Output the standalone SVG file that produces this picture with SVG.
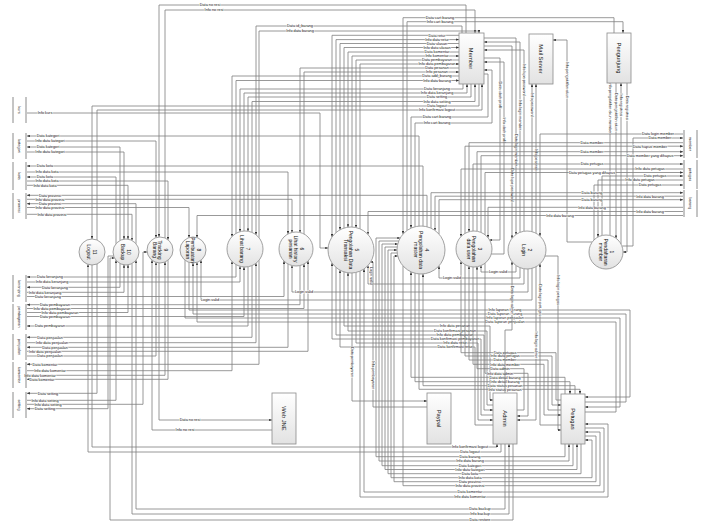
<svg xmlns="http://www.w3.org/2000/svg" width="701" height="524" viewBox="0 0 701 524">
<defs>
<marker id="a" viewBox="0 0 6 6" refX="6" refY="3" markerWidth="3.6" markerHeight="3.6" orient="auto"><path d="M0,0.5L6,3L0,5.5z" fill="#333"/></marker>
<linearGradient id="g" x1="0" y1="0" x2="0" y2="1"><stop offset="0" stop-color="#ffffff"/><stop offset="1" stop-color="#e2e2e2"/></linearGradient>
</defs>
<style>
.c{fill:none;stroke:#7f7f7f;stroke-width:0.8;marker-end:url(#a)}
.l{font-family:"Liberation Sans",Arial,sans-serif;font-size:3.8px;fill:#111;text-anchor:middle;paint-order:stroke;stroke:#fff;stroke-width:1.1px;stroke-linejoin:round}
.n{font-family:"Liberation Sans",Arial,sans-serif;font-size:5px;fill:#111;text-anchor:middle}
.e{font-family:"Liberation Sans",Arial,sans-serif;font-size:5.8px;fill:#111;text-anchor:middle}
.s{font-family:"Liberation Sans",Arial,sans-serif;font-size:3.8px;fill:#111;text-anchor:middle}
.p{fill:url(#g);stroke:#8a8a8a;stroke-width:0.8}
.b{stroke:#8a8a8a;stroke-width:1;fill:none}
</style>
<rect width="701" height="524" fill="#fff"/>

<g id="connectors">
<path class="c" d="M466,33V5H159V237"/><text class="l" x="210" y="6.35">Data no resi</text>
<path class="c" d="M165,238V10H475V33"/><text class="l" x="214" y="11.35">Info no resi</text>
<path class="c" d="M159,263V420H272"/><text class="l" x="190" y="421.35">Data no resi</text>
<path class="c" d="M272,430H152V260.2"/><text class="l" x="185" y="431.35">Info no resi</text>
<path class="c" d="M462,33V26H256V234.8"/><text class="l" x="300" y="27.35">Data id_barang</text>
<path class="c" d="M259,237.7V31H479V33"/><text class="l" x="300" y="32.35">Info data barang</text>
<path class="c" d="M614,33V17.7H403V234"/><text class="l" x="440" y="19.05">Data cart barang</text>
<path class="c" d="M407,230.5V21.7H623V33"/><text class="l" x="440" y="23.05">Info cart barang</text>

<path class="c" d="M459,35.3H332V237"/><text class="l" x="437" y="36.65">Data retur</text>
<path class="c" d="M336,232.6V39.6H459"/><text class="l" x="437" y="40.95">Info data retur</text>
<path class="c" d="M459,43.5H340V229.8"/><text class="l" x="437" y="44.85">Data ulasan</text>
<path class="c" d="M344,228.1V47.5H459"/><text class="l" x="437" y="48.85">Info data ulasan</text>
<path class="c" d="M459,52H348V227.2"/><text class="l" x="437" y="53.35">Data komentar</text>
<path class="c" d="M352,227V56H459"/><text class="l" x="437" y="57.35">Info komentar</text>
<path class="c" d="M459,60H356V227.6"/><text class="l" x="437" y="61.35">Data pembayaran</text>
<path class="c" d="M360,228.8V64H459"/><text class="l" x="437" y="65.35">Info data pembayaran</text>
<path class="c" d="M459,68H300V232.5"/><text class="l" x="437" y="69.35">Data pesanan</text>
<path class="c" d="M304,234V72H459"/><text class="l" x="437" y="73.35">Info pesanan</text>
<path class="c" d="M459,76H232V236.6"/><text class="l" x="437" y="77.35">Data add_barang</text>
<path class="c" d="M236,233.4V80.5H459"/><text class="l" x="437" y="81.85">Info data barang</text>
<path class="c" d="M463,84V89H240V231.7"/><text class="l" x="437" y="90.35">Data keranjang</text>
<path class="c" d="M244,231V93H467V84"/><text class="l" x="437" y="94.35">Info data keranjang</text>
<path class="c" d="M471,84V97H248V231.3"/><text class="l" x="437" y="98.35">Data setting</text>
<path class="c" d="M252,232.4V101.5H475V84"/><text class="l" x="437" y="102.85">Info data setting</text>
<path class="c" d="M479,84V106H92V239"/><text class="l" x="437" y="107.35">Data logout</text>
<path class="c" d="M97,240V110H482V84"/><text class="l" x="437" y="111.35">Info konfirmasi logout</text>
<path class="c" d="M484,74H488V117H411V228"/><text class="l" x="437" y="118.35">Data cart barang</text>
<path class="c" d="M415,226.8V123H492V70H484"/><text class="l" x="437" y="124.35">Info cart barang</text>

<path class="c" d="M484,38H516V234.5"/><text class="l" transform="rotate(90 516 150)" x="516" y="151.3">Data login member</text>
<path class="c" d="M520,232.3V42H484"/><text class="l" transform="rotate(90 520 115)" x="520" y="116.3">Info login member</text>
<path class="c" d="M484,46H512V238.3"/><text class="l" transform="rotate(90 512 185)" x="512" y="186.3">Data lupa password</text>
<path class="c" d="M524,231.2V50H484"/><text class="l" transform="rotate(90 524 80)" x="524" y="81.3">Info lupa password</text>
<path class="c" d="M484,58H500V240H489.6"/><text class="l" transform="rotate(90 500 95)" x="500" y="96.3">Data ubah profil</text>
<path class="c" d="M491.3,254H504V62H484"/><text class="l" transform="rotate(90 504 130)" x="504" y="131.3">Info ubah profil</text>

<path class="c" d="M532,231.7V84"/><text class="l" transform="rotate(90 532 105)" x="532" y="106.3">Info password</text>
<path class="c" d="M536,233.3V84"/><text class="l" transform="rotate(90 536 160)" x="536" y="161.3">Info pesanan</text>
<path class="c" d="M592.3,242H567V40H553"/><text class="l" transform="rotate(90 567 80)" x="567" y="81.3">Info pengaktifan akun</text>
<path class="c" d="M610,235.5V83"/><text class="l" transform="rotate(90 610 108)" x="610" y="109.3">Info pengaktifan akun member</text>
<path class="c" d="M616,83V238.3"/><text class="l" transform="rotate(90 616 112)" x="616" y="113.3">Data pengaktifan akun</text>
<path class="c" d="M621,244V83"/><text class="l" transform="rotate(90 621 105)" x="621" y="106.3">Info registrasi</text>
<path class="c" d="M627,83V252H623"/><text class="l" transform="rotate(90 627 108)" x="627" y="109.3">Data registrasi</text>

<path class="c" d="M683,134H540V236.1"/><text class="l" x="658" y="135.35">Data login member</text>
<path class="c" d="M622.2,246H633V138H683"/><text class="l" x="660" y="139.35">Data member</text>
<path class="c" d="M683,142.7H469V231.7"/><text class="l" x="592" y="144.05">Data member</text>
<path class="c" d="M465,233.4V146.2H683"/><text class="l" x="650" y="147.55">Data hapus member</text>
<path class="c" d="M477,231.3V151.7H683"/><text class="l" x="592" y="153.05">Data member</text>
<path class="c" d="M481,232.4V155.7H683"/><text class="l" x="650" y="157.05">Data member yang dihapus</text>
<path class="c" d="M473,231V164H683"/><text class="l" x="592" y="165.35">Data petugas</text>
<path class="c" d="M683,169H461V236.6"/><text class="l" x="650" y="170.35">Info data petugas</text>
<path class="c" d="M485,234.8V172.5H683"/><text class="l" x="592" y="173.85">Data petugas yang dihapus</text>
<path class="c" d="M602,235.5V176H683"/><text class="l" x="655" y="177.35">Data petugas</text>
<path class="c" d="M683,180H598V237"/><text class="l" x="640" y="181.35">Info data petugas</text>
<path class="c" d="M594,240V185H683"/><text class="l" x="650" y="186.35">Data petugas</text>
<path class="c" d="M431,228V192.7H683"/><text class="l" x="592" y="194.05">Data barang</text>
<path class="c" d="M683,196.2H435V230.5"/><text class="l" x="650" y="197.55">Info data barang</text>
<path class="c" d="M439,234V199.7H683"/><text class="l" x="592" y="201.05">Data barang</text>
<path class="c" d="M683,207.3H488V237.7"/><text class="l" x="592" y="208.65">Info data barang</text>
<path class="c" d="M683,211.5H368V234.5"/><text class="l" x="650" y="212.85">Info data barang</text>
<path class="c" d="M683,215.5H197V237.6"/><text class="l" x="560" y="216.85">Info data barang</text>

<path class="c" d="M27,113H320V248H328.1"/><text class="l" x="45" y="114.35">Info kurs</text>
<path class="c" d="M419,226V136H27"/><text class="l" x="48" y="137.35">Data kategori</text>
<path class="c" d="M27,141H156V237.6"/><text class="l" x="50" y="142.35">Info data kategori</text>
<path class="c" d="M120,240.5V147H27"/><text class="l" x="48" y="148.35">Data kategori</text>
<path class="c" d="M27,152H124V239.2"/><text class="l" x="50" y="153.35">Info data kategori</text>
<path class="c" d="M423,226V166H27"/><text class="l" x="45" y="167.35">Data kota</text>
<path class="c" d="M27,172H288V234"/><text class="l" x="47" y="173.35">Info data kota</text>
<path class="c" d="M116,243.7V177H27"/><text class="l" x="45" y="178.35">Data kota</text>
<path class="c" d="M27,181H168V239.8"/><text class="l" x="47" y="182.35">Info data kota</text>
<path class="c" d="M27,185.3H128V239.2"/><text class="l" x="45" y="186.65">Info data kota</text>
<path class="c" d="M427,226.8V195.3H27"/><text class="l" x="50" y="196.65">Data provinsi</text>
<path class="c" d="M27,199.3H292V232.5"/><text class="l" x="50" y="200.65">Info data provinsi</text>
<path class="c" d="M136,243.7V203.7H27"/><text class="l" x="50" y="205.05">Data provinsi</text>
<path class="c" d="M27,207.5H189V237.6"/><text class="l" x="50" y="208.85">Info data provinsi</text>
<path class="c" d="M27,214.3H132V240.5"/><text class="l" x="52" y="215.65">Info data provinsi</text>

<path class="c" d="M236,264.6V277H27"/><text class="l" x="50" y="278.35">Data keranjang</text>
<path class="c" d="M27,282H240V266.3"/><text class="l" x="52" y="283.35">Info data keranjang</text>
<path class="c" d="M120,263.5V287.3H27"/><text class="l" x="55" y="288.65">Data keranjang</text>
<path class="c" d="M27,292.3H124V264.8"/><text class="l" x="45" y="293.65">Info data keranjang</text>
<path class="c" d="M27,296.5H284V261"/><text class="l" x="48" y="297.85">Data keranjang</text>
<path class="c" d="M300,265.5V304.7H27"/><text class="l" x="55" y="306.05">Data pembayaran</text>
<path class="c" d="M27,308.5H304V264"/><text class="l" x="52" y="309.85">Info data pembayaran</text>
<path class="c" d="M27,312.5H128V264.8"/><text class="l" x="60" y="313.85">Info data pembayaran</text>
<path class="c" d="M27,316.5H244V267"/><text class="l" x="55" y="317.85">Data pembayaran</text>
<path class="c" d="M248,266.7V326H27"/><text class="l" x="50" y="327.35">Data pembayaran</text>
<path class="c" d="M252,265.6V337.3H27"/><text class="l" x="50" y="338.65">Data penjualan</text>
<path class="c" d="M27,342.7H256V263.2"/><text class="l" x="52" y="344.05">Info data penjualan</text>
<path class="c" d="M288,264V347.3H27"/><text class="l" x="55" y="348.65">Data penjualan</text>
<path class="c" d="M27,351.3H308V261"/><text class="l" x="45" y="352.65">Info data penjualan</text>
<path class="c" d="M27,356H156V262.4"/><text class="l" x="50" y="357.35">Data penjualan</text>
<path class="c" d="M259,260.3V364.3H27"/><text class="l" x="45" y="365.65">Data komentar</text>
<path class="c" d="M27,370.7H232V261.4"/><text class="l" x="50" y="372.05">Info data komentar</text>
<path class="c" d="M27,375.3H165V262"/><text class="l" x="40" y="376.65">Info data komentar</text>
<path class="c" d="M168,260.2V379.3H27"/><text class="l" x="42" y="380.65">Data komentar</text>
<path class="c" d="M97,264V393.3H27"/><text class="l" x="48" y="394.65">Data setting</text>
<path class="c" d="M27,400.3H116V260.3"/><text class="l" x="45" y="401.65">Info data setting</text>
<path class="c" d="M27,404.3H143V252H147.2"/><text class="l" x="48" y="405.65">Info data setting</text>
<path class="c" d="M113.6,256H108V408.7H27"/><text class="l" x="45" y="410.05">Data setting</text>

<path class="c" d="M92,265V447H497V444"/><text class="l" x="470" y="448.35">Info konfirmasi logout</text>
<path class="c" d="M501,444V452H88V264.4"/><text class="l" x="470" y="453.35">Data logout</text>
<path class="c" d="M505,444V509H136V260.3"/><text class="l" x="480" y="510.35">Data backup</text>
<path class="c" d="M132,263.5V514H509V444"/><text class="l" x="480" y="515.35">Info backup</text>
<path class="c" d="M513,444V520H110V258H114.5"/><text class="l" x="480" y="521.35">Data restore</text>
<path class="c" d="M565,444V456.7H376V238H400.2"/><text class="l" x="470" y="458.05">Data barang</text>
<path class="c" d="M398.8,241H379V461H569V444"/><text class="l" x="470" y="462.35">Info data barang</text>
<path class="c" d="M573,444V465.7H382V244H397.8"/><text class="l" x="470" y="467.05">Data kategori</text>
<path class="c" d="M397.2,247H385V469.5H577V444"/><text class="l" x="470" y="470.85">Info data kategori</text>
<path class="c" d="M581,444V473.7H388V250H397"/><text class="l" x="470" y="475.05">Data kota</text>
<path class="c" d="M397.2,253H391V477.7H592V440H585"/><text class="l" x="470" y="479.05">Info data kota</text>
<path class="c" d="M585,436H596V481.7H394V256H397.8"/><text class="l" x="470" y="483.05">Data provinsi</text>
<path class="c" d="M403,266V485.7H600V432H585"/><text class="l" x="470" y="487.05">Info data provinsi</text>
<path class="c" d="M585,428H604V492H364V269"/><text class="l" x="470" y="493.35">Data komentar</text>
<path class="c" d="M360,271.2V497H608V424H585"/><text class="l" x="470" y="498.35">Info data komentar</text>

<path class="c" d="M189,262.4V310H630V397H585"/><text class="l" x="505" y="311.35">Info laporan barang</text>
<path class="c" d="M585,402H626V314H193V263"/><text class="l" x="505" y="315.35">Data laporan barang</text>
<path class="c" d="M185,260.2V318H620V407H585"/><text class="l" x="505" y="319.35">Info laporan penjualan</text>
<path class="c" d="M585,412H616V322H197V262.4"/><text class="l" x="505" y="323.35">Data laporan penjualan</text>
<path class="c" d="M344,271.9V326H490V400H493"/><text class="l" x="455" y="327.35">Info data pesanan</text>
<path class="c" d="M493,405H487V331H348V272.8"/><text class="l" x="455" y="332.35">Data konfirmasi pesanan</text>
<path class="c" d="M336,267.4V335H484V410H493"/><text class="l" x="455" y="336.35">Info data pembayaran</text>
<path class="c" d="M493,415H481V339H332V263"/><text class="l" x="455" y="340.35">Data konfirmasi pembayaran</text>
<path class="c" d="M356,272.4V343H478V420H493"/><text class="l" x="455" y="344.35">Info data retur</text>
<path class="c" d="M493,425H475V347H340V270.2"/><text class="l" x="455" y="348.35">Data konfirmasi retur</text>
<path class="c" d="M561,400H556V352.7H461V261.4"/><text class="l" x="505" y="354.05">Data petugas</text>
<path class="c" d="M465,264.6V356H552V405H561"/><text class="l" x="505" y="357.35">Info data petugas</text>
<path class="c" d="M561,410H548V360H469V266.3"/><text class="l" x="505" y="361.35">Data member</text>
<path class="c" d="M473,267V364.3H544V415H561"/><text class="l" x="505" y="365.65">Info data member</text>
<path class="c" d="M517,410H524V368.7H477V266.7"/><text class="l" x="500" y="370.05">Data admin</text>
<path class="c" d="M485,263.2V373.3H528V416H517"/><text class="l" x="500" y="374.65">Info data admin</text>
<path class="c" d="M565,394V377.3H411V272"/><text class="l" x="505" y="378.65">Data detail barang</text>
<path class="c" d="M415,273.2V381.7H570V394"/><text class="l" x="505" y="383.05">Info detail barang</text>
<path class="c" d="M575,394V385.7H423V274"/><text class="l" x="505" y="387.05">Data status pesanan</text>
<path class="c" d="M419,274V389.3H580V394"/><text class="l" x="505" y="390.65">Info status pesanan</text>

<path class="c" d="M505,393V330H512V261.7"/><text class="l" transform="rotate(90 512 300)" x="512" y="301.3">Data login admin</text>
<path class="c" d="M536,266.7V420H517"/><text class="l" transform="rotate(90 536 345)" x="536" y="346.3">Info login admin</text>
<path class="c" d="M561,425H540V263.9"/><text class="l" transform="rotate(90 540 300)" x="540" y="301.3">Data login petugas</text>
<path class="c" d="M545,256H558V430H561"/><text class="l" transform="rotate(90 558 290)" x="558" y="291.3">Info login petugas</text>
<path class="c" d="M516,265.5V272H481V265.6"/><text class="l" x="498" y="273.35">Login valid</text>
<path class="c" d="M520,267.7V278H439V266"/><text class="l" x="452" y="279.35">Login valid</text>
<path class="c" d="M524,268.8V284H368V265.5"/><text class="l" transform="rotate(90 371 276)" x="371" y="277.3">Login valid</text>
<path class="c" d="M528,269V292H292V265.5"/><text class="l" x="304" y="293.35">Login valid</text>
<path class="c" d="M532,268.3V300H201V260.2"/><text class="l" x="210" y="301.35">Login valid</text>
<path class="c" d="M352,273V401H427"/><text class="l" transform="rotate(90 352 362)" x="352" y="363.3">Data pembayaran</text>
<path class="c" d="M427,407H373V262H370.6"/><text class="l" transform="rotate(90 373 375)" x="373" y="376.3">Info pembayaran</text>
</g>

<g id="p11"><circle class="p" cx="92" cy="252" r="13"/><text class="n" transform="rotate(90 92 252)"><tspan x="92" y="251.05">11</tspan><tspan x="92" y="256.55">Logout</tspan></text></g>
<g id="p10"><circle class="p" cx="126" cy="252" r="13"/><text class="n" transform="rotate(90 126 252)"><tspan x="126" y="251.05">10</tspan><tspan x="126" y="256.55">Backup</tspan></text></g>
<g id="p9"><circle class="p" cx="160" cy="250" r="13"/><text class="n" transform="rotate(90 160 250)"><tspan x="160" y="246.3">9</tspan><tspan x="160" y="251.8">Tracking</tspan><tspan x="160" y="257.3">Barang</tspan></text></g>
<g id="p8"><circle class="p" cx="193" cy="250" r="13"/><text class="n" transform="rotate(90 193 250)"><tspan x="193" y="246.3">8</tspan><tspan x="193" y="251.8">Pembuatan</tspan><tspan x="193" y="257.3">Laporan</tspan></text></g>
<g id="p7"><circle class="p" cx="245" cy="249" r="18"/><text class="n" transform="rotate(90 245 249)"><tspan x="245" y="248.05">7</tspan><tspan x="245" y="253.55">Lihat barang</tspan></text></g>
<g id="p6"><circle class="p" cx="296" cy="249" r="17"/><text class="n" transform="rotate(90 296 249)"><tspan x="296" y="245.3">6</tspan><tspan x="296" y="250.8">Lihat history</tspan><tspan x="296" y="256.3">pesanan</tspan></text></g>
<g id="p5"><circle class="p" cx="351" cy="250" r="23"/><text class="n" transform="rotate(90 351 250)"><tspan x="351" y="246.3">5</tspan><tspan x="351" y="251.8">Pengolahan Data</tspan><tspan x="351" y="257.3">Transaksi</tspan></text></g>
<g id="p4"><circle class="p" cx="421" cy="250" r="24"/><text class="n" transform="rotate(90 421 250)"><tspan x="421" y="246.3">4</tspan><tspan x="421" y="251.8">Pengolahan data</tspan><tspan x="421" y="257.3">master</tspan></text></g>
<g id="p3"><circle class="p" cx="474" cy="249" r="18"/><text class="n" transform="rotate(90 474 249)"><tspan x="474" y="245.3">3</tspan><tspan x="474" y="250.8">Pengolahan</tspan><tspan x="474" y="256.3">data user</tspan></text></g>
<g id="p2"><circle class="p" cx="527" cy="250" r="19"/><text class="n" transform="rotate(90 527 250)"><tspan x="527" y="249.05">2</tspan><tspan x="527" y="254.55">Login</tspan></text></g>
<g id="p1"><circle class="p" cx="606" cy="252" r="17"/><text class="n" transform="rotate(90 606 252)"><tspan x="606" y="248.3">1</tspan><tspan x="606" y="253.8">Pendaftaran</tspan><tspan x="606" y="259.3">member</tspan></text></g>

<g id="member"><rect class="p" x="459" y="33" width="25" height="51"/><text class="e" transform="rotate(90 471.5 58.5)" x="471.5" y="60.6">Member</text></g>
<g id="mailserver"><rect class="p" x="529" y="34" width="24" height="50"/><text class="e" transform="rotate(90 541 59)" x="541" y="61.1">Mail Server</text></g>
<g id="pengunjung"><rect class="p" x="607" y="33" width="24" height="50"/><text class="e" transform="rotate(90 619 58)" x="619" y="60.1">Pengunjung</text></g>
<g id="webjne"><rect class="p" x="272" y="393" width="24" height="51"/><text class="e" transform="rotate(90 284 418.5)" x="284" y="420.6">Web JNE</text></g>
<g id="paypal"><rect class="p" x="427" y="393" width="24" height="51"/><text class="e" transform="rotate(90 439 418.5)" x="439" y="420.6">Paypal</text></g>
<g id="admin"><rect class="p" x="493" y="393" width="24" height="51"/><text class="e" transform="rotate(90 505 418.5)" x="505" y="420.6">Admin</text></g>
<g id="petugas"><rect class="p" x="561" y="394" width="24" height="50"/><text class="e" transform="rotate(90 573 419)" x="573" y="421.1">Petugas</text></g>

<g id="store-kurs"><path class="b" d="M13,97V123M26,97V123"/><text class="s" transform="rotate(90 19.5 110)" x="19.5" y="111.35">kurs</text></g>
<g id="store-kategori"><path class="b" d="M13,133V159M26,133V159"/><text class="s" transform="rotate(90 19.5 146)" x="19.5" y="147.35">kategori</text></g>
<g id="store-kota"><path class="b" d="M13,162V190M26,162V190"/><text class="s" transform="rotate(90 19.5 176)" x="19.5" y="177.35">kota</text></g>
<g id="store-provinsi"><path class="b" d="M13,193V219M26,193V219"/><text class="s" transform="rotate(90 19.5 206)" x="19.5" y="207.35">provinsi</text></g>
<g id="store-keranjang"><path class="b" d="M13,275V302M26,275V302"/><text class="s" transform="rotate(90 19.5 288.5)" x="19.5" y="289.85">keranjang</text></g>
<g id="store-pembayaran"><path class="b" d="M13,304V330M26,304V330"/><text class="s" transform="rotate(90 19.5 317)" x="19.5" y="318.35">pembayaran</text></g>
<g id="store-penjualan"><path class="b" d="M13,334V360M26,334V360"/><text class="s" transform="rotate(90 19.5 347)" x="19.5" y="348.35">penjualan</text></g>
<g id="store-komentar"><path class="b" d="M13,362V388M26,362V388"/><text class="s" transform="rotate(90 19.5 375)" x="19.5" y="376.35">komentar</text></g>
<g id="store-setting"><path class="b" d="M13,392V418M26,392V418"/><text class="s" transform="rotate(90 19.5 405)" x="19.5" y="406.35">setting</text></g>
<g id="store-member"><path class="b" d="M684,130V158M697,130V158"/><text class="s" transform="rotate(90 690.5 144)" x="690.5" y="145.35">member</text></g>
<g id="store-petugas"><path class="b" d="M684,160V189M697,160V189"/><text class="s" transform="rotate(90 690.5 174.5)" x="690.5" y="175.85">petugas</text></g>
<g id="store-barang"><path class="b" d="M684,190V217M697,190V217"/><text class="s" transform="rotate(90 690.5 203.5)" x="690.5" y="204.85">barang</text></g>
</svg>
